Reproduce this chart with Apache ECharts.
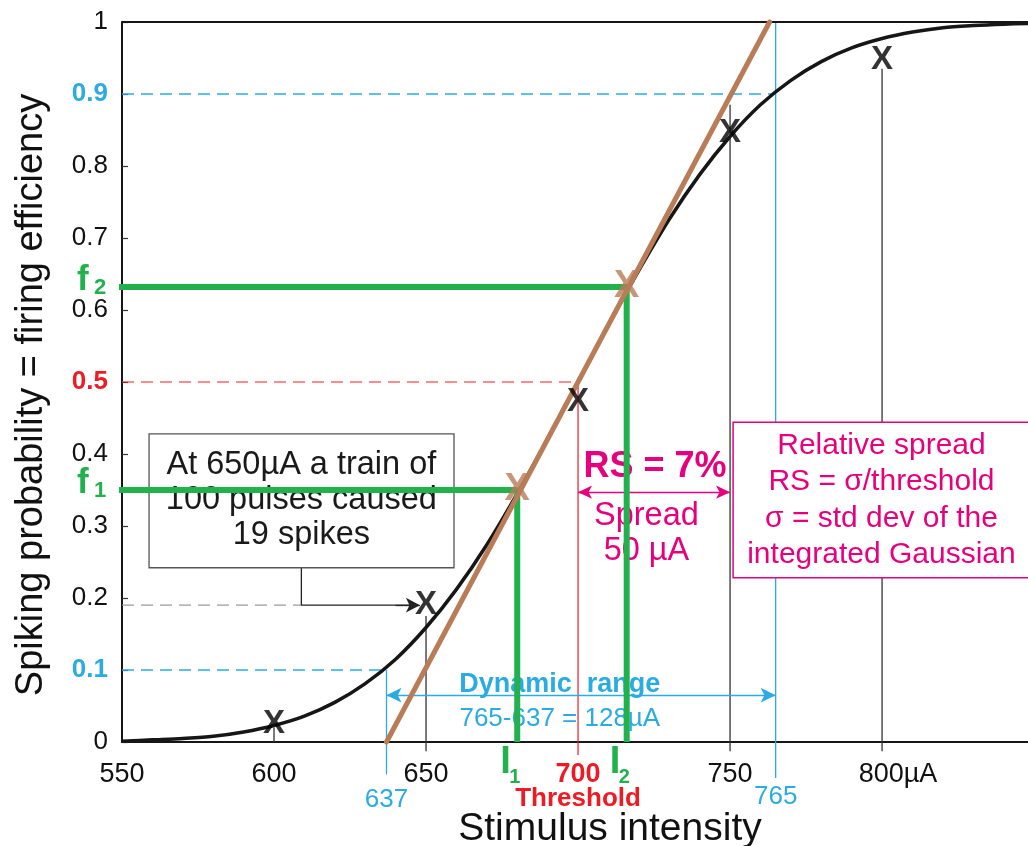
<!DOCTYPE html>
<html><head><meta charset="utf-8">
<script src="https://cdn.jsdelivr.net/npm/echarts@6/dist/echarts.min.js"></script>
<style>html,body{margin:0;padding:0;background:#fff}#c{width:1028px;height:846px}</style>
</head><body><div id="c"></div>
<script>
// ---- data ----
const curveX = [550,560,570,580,590,600,610,620,630,640,650,660,670,680,690,700,710,720,730,740,750,760,770,780,790,800,810,820,830,840,848];
const curveY = [0.001,0.003,0.005,0.008,0.014,0.023,0.036,0.055,0.081,0.115,0.159,0.212,0.274,0.345,0.421,0.5,0.579,0.655,0.726,0.788,0.841,0.885,0.919,0.945,0.964,0.977,0.986,0.992,0.995,0.997,0.998];
const markerX = [600, 650, 700, 750, 800];
const markerY = [0.025, 0.19, 0.472, 0.846, 0.947];
const dropTopY = [0.02, 0.175, 0.5, 0.885, 0.935];   // upper ends of the vertical drop lines
const tangentX = [637, 763];
const tangentY = [0, 1];
const opX = [680, 716];          // I1, I2
const opY = [0.35, 0.632];       // f1, f2
const rangeX = [637, 765];       // dynamic range ends
const rangeY = [0.1, 0.9];
const threshold = 700;
const halfLevel = 0.5;
const spreadX = [700, 750];
const exampleY = 0.19;
const xTickLabels = ['550','600','650','700','750','800µA'];
const yTickLabels = ['0','0.1','0.2','0.3','0.4','0.5','0.6','0.7','0.8','0.9','1'];

const FONT = "'Liberation Sans', Arial, Helvetica, sans-serif";
const C = {black:'#161616', green:'#22b14c', brown:'#b97c57', blue:'#2aabe3', red:'#ed1c24', pink:'#e6007e', gray:'#9a9a9a', box:'#555'};

const chart = echarts.init(document.getElementById('c'));

function seg(points, color, width, dashed, z) {
  return {type:'line', data: points, showSymbol:false, symbol:'none', clip:false, silent:true,
    animation:false, z: z || 2, lineStyle:{color, width, type: dashed ? [12,7] : 'solid', cap:'butt'}};
}

const curveData = curveX.map((x,i)=>[x, curveY[i]]);
const xmin = 550, xmax = 848;

const series = [];
series.push(seg([[xmin,1],[xmax,1]], C.black, 2, false, 3));
series.push(seg([[xmin,rangeY[0]],[rangeX[0],rangeY[0]]], C.blue, 1.3, true, 2));
series.push(seg([[xmin,rangeY[1]],[rangeX[1],rangeY[1]]], C.blue, 1.3, true, 2));
series.push(seg([[xmin,halfLevel],[threshold,halfLevel]], C.red, 1.2, true, 2));
series.push(seg([[xmin,exampleY],[609,exampleY]], C.gray, 1.3, true, 2));
series.push(seg([[rangeX[0],rangeY[0]],[rangeX[0],-0.045]], C.blue, 1.3, false, 2));
series.push(seg([[rangeX[1],1],[rangeX[1],-0.05]], C.blue, 1.3, false, 2));
series.push(seg([[threshold,halfLevel],[threshold,-0.018]], C.red, 1.2, false, 2));
markerX.forEach((x,i)=>{
  if (x === threshold) return;
  series.push(seg([[x,dropTopY[i]],[x, x===600 ? 0 : -0.013]], '#333', 1.3, false, 2));
});
series.push({type:'line', data:[[609,0.242],[609,exampleY],[647.3,exampleY]], showSymbol:false, symbol:'none', clip:false, silent:true, animation:false, z:3,
  lineStyle:{color:'#222', width:1.3},
  markLine:{silent:true, animation:false, symbol:['none','arrow'], symbolSize:[11,14], label:{show:false},
    lineStyle:{color:'#222', width:1.3, type:'solid'}, emphasis:{disabled:true},
    data:[[{coord:[640,exampleY]},{coord:[648,exampleY]}]]}});
series.push({type:'line', data:[], silent:true, animation:false, z:3,
  markLine:{silent:true, animation:false, symbol:['arrow','arrow'], symbolSize:[10,14], label:{show:false},
    lineStyle:{color:C.pink, width:1.4, type:'solid'}, emphasis:{disabled:true},
    data:[[{coord:[spreadX[0],0.347]},{coord:[spreadX[1],0.347]}]]}});
series.push({type:'line', data:[], silent:true, animation:false, z:3,
  markLine:{silent:true, animation:false, symbol:['arrow','arrow'], symbolSize:[11,15], label:{show:false},
    lineStyle:{color:C.blue, width:1.4, type:'solid'}, emphasis:{disabled:true},
    data:[[{coord:[rangeX[0],0.065]},{coord:[rangeX[1],0.065]}]]}});
series.push({type:'line', data: curveData, smooth:0.3, showSymbol:false, symbol:'none', silent:true, animation:false, z:5,
  lineStyle:{color:C.black, width:3.5}});
opX.forEach((x,i)=>{
  series.push(seg([[xmin-1.3,opY[i]],[x,opY[i]],[x,0]], C.green, 6, false, 6));
});
series.push({type:'line', data: tangentX.map((x,i)=>[x,tangentY[i]]), showSymbol:false, symbol:'none', silent:true, animation:false, z:7, clip:false,
  lineStyle:{color:C.brown, width:5, cap:'round'}});
series.push({type:'scatter', data: opX.map((x,i)=>[x,opY[i]]), symbolSize:1, itemStyle:{color:'transparent'}, silent:true, animation:false, z:8,
  label:{show:true, position:'inside', formatter:'X', color:C.brown, fontSize:38, fontWeight:'bold', fontFamily:FONT}});
series.push({type:'scatter', data: markerX.map((x,i)=>[x,markerY[i]]), symbolSize:1, itemStyle:{color:'transparent'}, silent:true, animation:false, z:9,
  label:{show:true, position:'inside', formatter:'X', color:'#000', fontSize:33, fontWeight:'bold', fontFamily:FONT, textBorderWidth:0}});

const option = {
  backgroundColor:'#fff',
  animation:false,
  grid:{left:122, right:0, top:22, bottom:104, containLabel:false},
  xAxis:{type:'value', min:xmin, max:xmax, interval:50,
    axisLine:{lineStyle:{color:C.black, width:2}}, axisTick:{show:false}, splitLine:{show:false},
    axisLabel:{margin:19, fontSize:27, fontFamily:FONT, color:'#111', showMaxLabel:false,
      formatter:(v)=>{ const i = Math.round((v-550)/50); const t = xTickLabels[i];
        if (v===threshold) return '{r|'+t+'}';
        if (v===800) return '{u|'+t+'}';
        return t; },
      rich:{r:{fontSize:27, fontWeight:'bold', color:C.red, fontFamily:FONT},
            u:{fontSize:27, color:'#111', fontFamily:FONT, padding:[0,0,0,32]}}}},
  yAxis:{type:'value', min:0, max:1, interval:0.1,
    axisLine:{show:true, lineStyle:{color:C.black, width:2}},
    axisTick:{show:true, inside:true, length:6, lineStyle:{color:'#333', width:1.2}},
    splitLine:{show:false},
    axisLabel:{margin:14, fontSize:26, fontFamily:FONT, color:'#111',
      formatter:(v)=>{ const i = Math.round(v*10); const t = yTickLabels[i];
        if (i===1 || i===9) return '{b|'+t+'}';
        if (i===5) return '{r|'+t+'}';
        return t; },
      rich:{b:{fontSize:26, fontWeight:'bold', color:C.blue, fontFamily:FONT},
            r:{fontSize:26, fontWeight:'bold', color:C.red, fontFamily:FONT}}}},
  series
};
chart.setOption(option);

const P = (x,y)=>chart.convertToPixel({xAxisIndex:0, yAxisIndex:0},[x,y]);
function txt(x, y, text, o) {
  return Object.assign({type:'text', x, y, silent:true, z:o.z||20,
    style:Object.assign({text, fontFamily:FONT, fontSize:26, fill:'#111', align:'center', verticalAlign:'middle'}, o.style||{})}, o.extra||{});
}
const g = [];
{
  const a = P(558.9,0.428), b = P(659.2,0.242);
  g.push({type:'rect', silent:true, z:4, shape:{x:a[0], y:a[1], width:b[0]-a[0], height:b[1]-a[1]},
    style:{fill:'#fff', stroke:C.box, lineWidth:1.3}});
  const c = P(609, 0.336);
  g.push(txt(c[0], c[1], 'At 650µA a train of\n100 pulses caused\n19 spikes', {z:4, style:{fontSize:32.5, lineHeight:35, fill:'#1a1a1a'}}));
}
{
  const a = P(751,0.444), b = P(xmax,0.228);
  g.push({type:'rect', silent:true, z:4, shape:{x:a[0], y:a[1], width:b[0]-a[0]+10, height:b[1]-a[1]},
    style:{fill:'#fff', stroke:C.pink, lineWidth:1.5}});
  const c = P(799.8, 0.336);
  g.push(txt(c[0], c[1], 'Relative spread\nRS = σ/threshold\nσ = std dev of the\nintegrated Gaussian', {z:4, style:{fontSize:30, lineHeight:36.5, fill:C.pink}}));
}
{
  let c = P(725.3, 0.382);
  g.push(txt(c[0], c[1], 'RS = 7%', {z:4, style:{fontSize:36, fontWeight:'bold', fill:C.pink}}));
  c = P(722.5, 0.289);
  g.push(txt(c[0], c[1], 'Spread\n50 µA', {z:4, style:{fontSize:32.5, lineHeight:35, fill:C.pink}}));
}
{
  let c = P(694, 0.08);
  g.push(txt(c[0], c[1], 'Dynamic  range', {z:4, style:{fontSize:27, fontWeight:'bold', fill:C.blue}}));
  c = P(694, 0.032);
  g.push(txt(c[0], c[1], '765-637 = 128µA', {z:4, style:{fontSize:26, fill:C.blue}}));
}
{
  const y0 = P(550,0)[1];
  let c = P(rangeX[0],0); g.push(txt(c[0], y0+58, String(rangeX[0]), {style:{fontSize:26, fill:C.blue}}));
  c = P(rangeX[1],0); g.push(txt(c[0], y0+55, String(rangeX[1]), {style:{fontSize:26, fill:C.blue}}));
  c = P(threshold,0); g.push(txt(c[0], y0+57, 'Threshold', {style:{fontSize:26, fontWeight:'bold', fill:C.red}}));
  ['1','2'].forEach((s,i)=>{
    const p = P(opX[i],0);
    g.push(txt(p[0]-17, y0+21, 'I', {style:{fontSize:38, fontWeight:'bold', fill:C.green, align:'left', verticalAlign:'middle'}}));
    g.push(txt(p[0]-8, y0+35, s, {style:{fontSize:20, fontWeight:'bold', fill:C.green, align:'left', verticalAlign:'middle'}}));
  });
  ['1','2'].forEach((s,i)=>{
    const p = P(550,opY[i]);
    g.push(txt(p[0]-45, p[1]-7, 'f', {style:{fontSize:35, fontWeight:'bold', fill:C.green, align:'left'}}));
    g.push(txt(p[0]-28, p[1]+1, s, {style:{fontSize:22, fontWeight:'bold', fill:C.green, align:'left'}}));
  });
  g.push(txt(610, 829, 'Stimulus intensity', {style:{fontSize:39, fill:'#111'}}));
  g.push(txt(32, 395, 'Spiking probability = firing efficiency', {style:{fontSize:38, fill:'#111'}, extra:{rotation:Math.PI/2}}));
}
chart.setOption({graphic:g});
</script></body></html>
